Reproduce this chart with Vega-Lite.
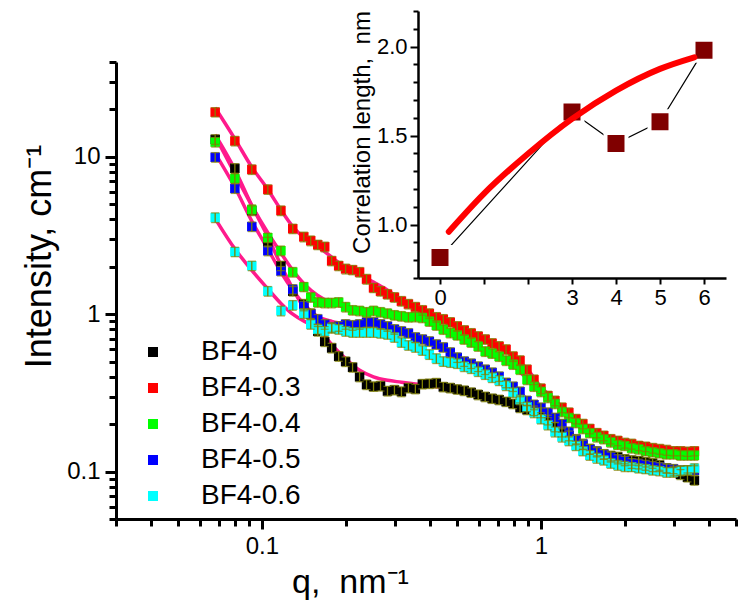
{
  "$schema": "https://vega.github.io/schema/vega-lite/v6.json",
  "width": 620,
  "height": 457,
  "autosize": {"type": "none"},
  "padding": {"left": 116, "top": 62, "right": 17, "bottom": 96},
  "background": "white",
  "config": {
    "view": {"stroke": null},
    "font": "Liberation Sans",
    "axis": {"grid": false, "domainColor": "black", "tickColor": "black", "labelColor": "black", "titleColor": "black", "titleFontWeight": "normal", "labelFont": "Liberation Sans", "titleFont": "Liberation Sans", "labelOverlap": false, "labelFlush": false, "labelBound": false},
    "legend": {"orient": "none", "legendX": 23, "legendY": 276, "symbolType": "square", "symbolSize": 100, "labelFontSize": 28, "labelFont": "Liberation Sans", "labelColor": "black", "labelOffset": 34, "rowPadding": 8, "padding": 0, "symbolStrokeWidth": 0}
  },
  "datasets": {
    "pts": [
      {"s":"BF4-0","q":0.068,"i":12.9,"e":0.9},{"s":"BF4-0","q":0.08,"i":8.45,"e":0.59},{"s":"BF4-0","q":0.092,"i":4.55,"e":0.32},{"s":"BF4-0","q":0.105,"i":2.88,"e":0.2},{"s":"BF4-0","q":0.117,"i":2.03,"e":0.14},{"s":"BF4-0","q":0.129,"i":1.4,"e":0.098},{"s":"BF4-0","q":0.1413,"i":1.16,"e":0.081},{"s":"BF4-0","q":0.1496,"i":1.01,"e":0.071},{"s":"BF4-0","q":0.1585,"i":0.78,"e":0.055},{"s":"BF4-0","q":0.1679,"i":0.67,"e":0.047},{"s":"BF4-0","q":0.1778,"i":0.61,"e":0.043},{"s":"BF4-0","q":0.1884,"i":0.54,"e":0.038},{"s":"BF4-0","q":0.1995,"i":0.5,"e":0.035},{"s":"BF4-0","q":0.2113,"i":0.46,"e":0.032},{"s":"BF4-0","q":0.2239,"i":0.4,"e":0.028},{"s":"BF4-0","q":0.2371,"i":0.357,"e":0.025},{"s":"BF4-0","q":0.2512,"i":0.347,"e":0.024},{"s":"BF4-0","q":0.2661,"i":0.35,"e":0.025},{"s":"BF4-0","q":0.2818,"i":0.325,"e":0.023},{"s":"BF4-0","q":0.2985,"i":0.33,"e":0.023},{"s":"BF4-0","q":0.3162,"i":0.322,"e":0.023},{"s":"BF4-0","q":0.335,"i":0.34,"e":0.024},{"s":"BF4-0","q":0.3548,"i":0.335,"e":0.023},{"s":"BF4-0","q":0.3758,"i":0.36,"e":0.025},{"s":"BF4-0","q":0.3981,"i":0.362,"e":0.025},{"s":"BF4-0","q":0.4217,"i":0.365,"e":0.026},{"s":"BF4-0","q":0.4467,"i":0.345,"e":0.024},{"s":"BF4-0","q":0.4732,"i":0.34,"e":0.024},{"s":"BF4-0","q":0.5012,"i":0.333,"e":0.023},{"s":"BF4-0","q":0.5309,"i":0.327,"e":0.023},{"s":"BF4-0","q":0.5623,"i":0.318,"e":0.022},{"s":"BF4-0","q":0.5957,"i":0.308,"e":0.022},{"s":"BF4-0","q":0.631,"i":0.299,"e":0.021},{"s":"BF4-0","q":0.6683,"i":0.291,"e":0.02},{"s":"BF4-0","q":0.7079,"i":0.286,"e":0.02},{"s":"BF4-0","q":0.7499,"i":0.278,"e":0.019},{"s":"BF4-0","q":0.7943,"i":0.27,"e":0.019},{"s":"BF4-0","q":0.8414,"i":0.255,"e":0.018},{"s":"BF4-0","q":0.8913,"i":0.247,"e":0.017},{"s":"BF4-0","q":0.9441,"i":0.244,"e":0.017},{"s":"BF4-0","q":1.0,"i":0.237,"e":0.017},{"s":"BF4-0","q":1.059,"i":0.213,"e":0.015},{"s":"BF4-0","q":1.122,"i":0.192,"e":0.013},{"s":"BF4-0","q":1.189,"i":0.179,"e":0.013},{"s":"BF4-0","q":1.259,"i":0.169,"e":0.012},{"s":"BF4-0","q":1.334,"i":0.159,"e":0.011},{"s":"BF4-0","q":1.413,"i":0.148,"e":0.01},{"s":"BF4-0","q":1.496,"i":0.139,"e":0.01},{"s":"BF4-0","q":1.585,"i":0.133,"e":0.009},{"s":"BF4-0","q":1.679,"i":0.129,"e":0.009},{"s":"BF4-0","q":1.778,"i":0.126,"e":0.009},{"s":"BF4-0","q":1.884,"i":0.124,"e":0.009},{"s":"BF4-0","q":1.995,"i":0.12,"e":0.008},{"s":"BF4-0","q":2.113,"i":0.118,"e":0.008},{"s":"BF4-0","q":2.239,"i":0.117,"e":0.008},{"s":"BF4-0","q":2.371,"i":0.115,"e":0.008},{"s":"BF4-0","q":2.512,"i":0.113,"e":0.008},{"s":"BF4-0","q":2.661,"i":0.11,"e":0.008},{"s":"BF4-0","q":2.818,"i":0.105,"e":0.007},{"s":"BF4-0","q":2.985,"i":0.101,"e":0.007},{"s":"BF4-0","q":3.162,"i":0.096,"e":0.007},{"s":"BF4-0","q":3.35,"i":0.092,"e":0.006},{"s":"BF4-0","q":3.548,"i":0.088,"e":0.006},
      {"s":"BF4-0.3","q":0.068,"i":19.2,"e":1.3},{"s":"BF4-0.3","q":0.08,"i":12.6,"e":0.88},{"s":"BF4-0.3","q":0.092,"i":8.3,"e":0.58},{"s":"BF4-0.3","q":0.105,"i":6.2,"e":0.43},{"s":"BF4-0.3","q":0.117,"i":4.55,"e":0.32},{"s":"BF4-0.3","q":0.129,"i":3.49,"e":0.24},{"s":"BF4-0.3","q":0.1413,"i":3.1,"e":0.22},{"s":"BF4-0.3","q":0.1496,"i":2.93,"e":0.21},{"s":"BF4-0.3","q":0.1585,"i":2.76,"e":0.19},{"s":"BF4-0.3","q":0.1679,"i":2.68,"e":0.19},{"s":"BF4-0.3","q":0.1778,"i":2.18,"e":0.15},{"s":"BF4-0.3","q":0.1884,"i":2.03,"e":0.14},{"s":"BF4-0.3","q":0.1995,"i":1.94,"e":0.14},{"s":"BF4-0.3","q":0.2113,"i":1.91,"e":0.13},{"s":"BF4-0.3","q":0.2239,"i":1.85,"e":0.13},{"s":"BF4-0.3","q":0.2371,"i":1.67,"e":0.12},{"s":"BF4-0.3","q":0.2512,"i":1.47,"e":0.1},{"s":"BF4-0.3","q":0.2661,"i":1.4,"e":0.098},{"s":"BF4-0.3","q":0.2818,"i":1.34,"e":0.094},{"s":"BF4-0.3","q":0.2985,"i":1.28,"e":0.09},{"s":"BF4-0.3","q":0.3162,"i":1.21,"e":0.085},{"s":"BF4-0.3","q":0.335,"i":1.16,"e":0.081},{"s":"BF4-0.3","q":0.3548,"i":1.11,"e":0.078},{"s":"BF4-0.3","q":0.3758,"i":1.06,"e":0.074},{"s":"BF4-0.3","q":0.3981,"i":1.01,"e":0.071},{"s":"BF4-0.3","q":0.4217,"i":0.957,"e":0.067},{"s":"BF4-0.3","q":0.4467,"i":0.929,"e":0.065},{"s":"BF4-0.3","q":0.4732,"i":0.889,"e":0.062},{"s":"BF4-0.3","q":0.5012,"i":0.838,"e":0.059},{"s":"BF4-0.3","q":0.5309,"i":0.79,"e":0.055},{"s":"BF4-0.3","q":0.5623,"i":0.757,"e":0.053},{"s":"BF4-0.3","q":0.5957,"i":0.723,"e":0.051},{"s":"BF4-0.3","q":0.631,"i":0.692,"e":0.048},{"s":"BF4-0.3","q":0.6683,"i":0.653,"e":0.046},{"s":"BF4-0.3","q":0.7079,"i":0.625,"e":0.044},{"s":"BF4-0.3","q":0.7499,"i":0.597,"e":0.042},{"s":"BF4-0.3","q":0.7943,"i":0.539,"e":0.038},{"s":"BF4-0.3","q":0.8414,"i":0.508,"e":0.036},{"s":"BF4-0.3","q":0.8913,"i":0.445,"e":0.031},{"s":"BF4-0.3","q":0.9441,"i":0.384,"e":0.027},{"s":"BF4-0.3","q":1.0,"i":0.337,"e":0.024},{"s":"BF4-0.3","q":1.059,"i":0.303,"e":0.021},{"s":"BF4-0.3","q":1.122,"i":0.282,"e":0.02},{"s":"BF4-0.3","q":1.189,"i":0.255,"e":0.018},{"s":"BF4-0.3","q":1.259,"i":0.237,"e":0.017},{"s":"BF4-0.3","q":1.334,"i":0.216,"e":0.015},{"s":"BF4-0.3","q":1.413,"i":0.201,"e":0.014},{"s":"BF4-0.3","q":1.496,"i":0.187,"e":0.013},{"s":"BF4-0.3","q":1.585,"i":0.176,"e":0.012},{"s":"BF4-0.3","q":1.679,"i":0.169,"e":0.012},{"s":"BF4-0.3","q":1.778,"i":0.161,"e":0.011},{"s":"BF4-0.3","q":1.884,"i":0.157,"e":0.011},{"s":"BF4-0.3","q":1.995,"i":0.152,"e":0.011},{"s":"BF4-0.3","q":2.113,"i":0.15,"e":0.011},{"s":"BF4-0.3","q":2.239,"i":0.146,"e":0.01},{"s":"BF4-0.3","q":2.371,"i":0.144,"e":0.01},{"s":"BF4-0.3","q":2.512,"i":0.141,"e":0.01},{"s":"BF4-0.3","q":2.661,"i":0.139,"e":0.01},{"s":"BF4-0.3","q":2.818,"i":0.137,"e":0.01},{"s":"BF4-0.3","q":2.985,"i":0.135,"e":0.009},{"s":"BF4-0.3","q":3.162,"i":0.135,"e":0.009},{"s":"BF4-0.3","q":3.35,"i":0.134,"e":0.009},{"s":"BF4-0.3","q":3.548,"i":0.135,"e":0.009},
      {"s":"BF4-0.4","q":0.068,"i":12.4,"e":0.87},{"s":"BF4-0.4","q":0.08,"i":7.29,"e":0.51},{"s":"BF4-0.4","q":0.092,"i":4.62,"e":0.32},{"s":"BF4-0.4","q":0.105,"i":3.06,"e":0.21},{"s":"BF4-0.4","q":0.117,"i":2.53,"e":0.18},{"s":"BF4-0.4","q":0.129,"i":1.85,"e":0.13},{"s":"BF4-0.4","q":0.1413,"i":1.49,"e":0.1},{"s":"BF4-0.4","q":0.1496,"i":1.28,"e":0.09},{"s":"BF4-0.4","q":0.1585,"i":1.19,"e":0.083},{"s":"BF4-0.4","q":0.1679,"i":1.18,"e":0.083},{"s":"BF4-0.4","q":0.1778,"i":1.18,"e":0.083},{"s":"BF4-0.4","q":0.1884,"i":1.19,"e":0.083},{"s":"BF4-0.4","q":0.1995,"i":1.11,"e":0.078},{"s":"BF4-0.4","q":0.2113,"i":1.06,"e":0.074},{"s":"BF4-0.4","q":0.2239,"i":1.05,"e":0.074},{"s":"BF4-0.4","q":0.2371,"i":1.03,"e":0.072},{"s":"BF4-0.4","q":0.2512,"i":1.05,"e":0.074},{"s":"BF4-0.4","q":0.2661,"i":1.03,"e":0.072},{"s":"BF4-0.4","q":0.2818,"i":1.01,"e":0.071},{"s":"BF4-0.4","q":0.2985,"i":0.985,"e":0.069},{"s":"BF4-0.4","q":0.3162,"i":0.971,"e":0.068},{"s":"BF4-0.4","q":0.335,"i":0.957,"e":0.067},{"s":"BF4-0.4","q":0.3548,"i":0.96,"e":0.067},{"s":"BF4-0.4","q":0.3758,"i":0.95,"e":0.067},{"s":"BF4-0.4","q":0.3981,"i":0.9,"e":0.063},{"s":"BF4-0.4","q":0.4217,"i":0.85,"e":0.06},{"s":"BF4-0.4","q":0.4467,"i":0.8,"e":0.056},{"s":"BF4-0.4","q":0.4732,"i":0.76,"e":0.053},{"s":"BF4-0.4","q":0.5012,"i":0.735,"e":0.051},{"s":"BF4-0.4","q":0.5309,"i":0.692,"e":0.048},{"s":"BF4-0.4","q":0.5623,"i":0.662,"e":0.046},{"s":"BF4-0.4","q":0.5957,"i":0.625,"e":0.044},{"s":"BF4-0.4","q":0.631,"i":0.58,"e":0.041},{"s":"BF4-0.4","q":0.6683,"i":0.563,"e":0.039},{"s":"BF4-0.4","q":0.7079,"i":0.539,"e":0.038},{"s":"BF4-0.4","q":0.7499,"i":0.508,"e":0.036},{"s":"BF4-0.4","q":0.7943,"i":0.48,"e":0.034},{"s":"BF4-0.4","q":0.8414,"i":0.445,"e":0.031},{"s":"BF4-0.4","q":0.8913,"i":0.384,"e":0.027},{"s":"BF4-0.4","q":0.9441,"i":0.347,"e":0.024},{"s":"BF4-0.4","q":1.0,"i":0.322,"e":0.023},{"s":"BF4-0.4","q":1.059,"i":0.295,"e":0.021},{"s":"BF4-0.4","q":1.122,"i":0.27,"e":0.019},{"s":"BF4-0.4","q":1.189,"i":0.24,"e":0.017},{"s":"BF4-0.4","q":1.259,"i":0.22,"e":0.015},{"s":"BF4-0.4","q":1.334,"i":0.204,"e":0.014},{"s":"BF4-0.4","q":1.413,"i":0.187,"e":0.013},{"s":"BF4-0.4","q":1.496,"i":0.176,"e":0.012},{"s":"BF4-0.4","q":1.585,"i":0.166,"e":0.012},{"s":"BF4-0.4","q":1.679,"i":0.161,"e":0.011},{"s":"BF4-0.4","q":1.778,"i":0.154,"e":0.011},{"s":"BF4-0.4","q":1.884,"i":0.148,"e":0.01},{"s":"BF4-0.4","q":1.995,"i":0.146,"e":0.01},{"s":"BF4-0.4","q":2.113,"i":0.141,"e":0.01},{"s":"BF4-0.4","q":2.239,"i":0.139,"e":0.01},{"s":"BF4-0.4","q":2.371,"i":0.135,"e":0.009},{"s":"BF4-0.4","q":2.512,"i":0.133,"e":0.009},{"s":"BF4-0.4","q":2.661,"i":0.131,"e":0.009},{"s":"BF4-0.4","q":2.818,"i":0.129,"e":0.009},{"s":"BF4-0.4","q":2.985,"i":0.129,"e":0.009},{"s":"BF4-0.4","q":3.162,"i":0.127,"e":0.009},{"s":"BF4-0.4","q":3.35,"i":0.127,"e":0.009},{"s":"BF4-0.4","q":3.548,"i":0.127,"e":0.009},
      {"s":"BF4-0.5","q":0.068,"i":9.93,"e":0.7},{"s":"BF4-0.5","q":0.08,"i":6.29,"e":0.44},{"s":"BF4-0.5","q":0.092,"i":3.6,"e":0.25},{"s":"BF4-0.5","q":0.105,"i":2.53,"e":0.18},{"s":"BF4-0.5","q":0.117,"i":1.88,"e":0.13},{"s":"BF4-0.5","q":0.129,"i":1.44,"e":0.1},{"s":"BF4-0.5","q":0.1413,"i":1.13,"e":0.079},{"s":"BF4-0.5","q":0.1496,"i":1.0,"e":0.07},{"s":"BF4-0.5","q":0.1585,"i":0.93,"e":0.065},{"s":"BF4-0.5","q":0.1679,"i":0.863,"e":0.06},{"s":"BF4-0.5","q":0.1778,"i":0.826,"e":0.058},{"s":"BF4-0.5","q":0.1884,"i":0.838,"e":0.059},{"s":"BF4-0.5","q":0.1995,"i":0.863,"e":0.06},{"s":"BF4-0.5","q":0.2113,"i":0.851,"e":0.06},{"s":"BF4-0.5","q":0.2239,"i":0.863,"e":0.06},{"s":"BF4-0.5","q":0.2371,"i":0.889,"e":0.062},{"s":"BF4-0.5","q":0.2512,"i":0.889,"e":0.062},{"s":"BF4-0.5","q":0.2661,"i":0.863,"e":0.06},{"s":"BF4-0.5","q":0.2818,"i":0.838,"e":0.059},{"s":"BF4-0.5","q":0.2985,"i":0.802,"e":0.056},{"s":"BF4-0.5","q":0.3162,"i":0.779,"e":0.055},{"s":"BF4-0.5","q":0.335,"i":0.757,"e":0.053},{"s":"BF4-0.5","q":0.3548,"i":0.713,"e":0.05},{"s":"BF4-0.5","q":0.3758,"i":0.692,"e":0.048},{"s":"BF4-0.5","q":0.3981,"i":0.672,"e":0.047},{"s":"BF4-0.5","q":0.4217,"i":0.643,"e":0.045},{"s":"BF4-0.5","q":0.4467,"i":0.616,"e":0.043},{"s":"BF4-0.5","q":0.4732,"i":0.572,"e":0.04},{"s":"BF4-0.5","q":0.5012,"i":0.531,"e":0.037},{"s":"BF4-0.5","q":0.5309,"i":0.501,"e":0.035},{"s":"BF4-0.5","q":0.5623,"i":0.486,"e":0.034},{"s":"BF4-0.5","q":0.5957,"i":0.465,"e":0.033},{"s":"BF4-0.5","q":0.631,"i":0.445,"e":0.031},{"s":"BF4-0.5","q":0.6683,"i":0.426,"e":0.03},{"s":"BF4-0.5","q":0.7079,"i":0.402,"e":0.028},{"s":"BF4-0.5","q":0.7499,"i":0.367,"e":0.026},{"s":"BF4-0.5","q":0.7943,"i":0.347,"e":0.024},{"s":"BF4-0.5","q":0.8414,"i":0.322,"e":0.023},{"s":"BF4-0.5","q":0.8913,"i":0.282,"e":0.02},{"s":"BF4-0.5","q":0.9441,"i":0.266,"e":0.019},{"s":"BF4-0.5","q":1.0,"i":0.255,"e":0.018},{"s":"BF4-0.5","q":1.059,"i":0.237,"e":0.017},{"s":"BF4-0.5","q":1.122,"i":0.22,"e":0.015},{"s":"BF4-0.5","q":1.189,"i":0.201,"e":0.014},{"s":"BF4-0.5","q":1.259,"i":0.179,"e":0.013},{"s":"BF4-0.5","q":1.334,"i":0.161,"e":0.011},{"s":"BF4-0.5","q":1.413,"i":0.15,"e":0.011},{"s":"BF4-0.5","q":1.496,"i":0.139,"e":0.01},{"s":"BF4-0.5","q":1.585,"i":0.135,"e":0.009},{"s":"BF4-0.5","q":1.679,"i":0.129,"e":0.009},{"s":"BF4-0.5","q":1.778,"i":0.124,"e":0.009},{"s":"BF4-0.5","q":1.884,"i":0.12,"e":0.008},{"s":"BF4-0.5","q":1.995,"i":0.117,"e":0.008},{"s":"BF4-0.5","q":2.113,"i":0.113,"e":0.008},{"s":"BF4-0.5","q":2.239,"i":0.112,"e":0.008},{"s":"BF4-0.5","q":2.371,"i":0.11,"e":0.008},{"s":"BF4-0.5","q":2.512,"i":0.108,"e":0.008},{"s":"BF4-0.5","q":2.661,"i":0.107,"e":0.007},{"s":"BF4-0.5","q":2.818,"i":0.105,"e":0.007},{"s":"BF4-0.5","q":2.985,"i":0.104,"e":0.007},{"s":"BF4-0.5","q":3.162,"i":0.102,"e":0.007},{"s":"BF4-0.5","q":3.35,"i":0.102,"e":0.007},{"s":"BF4-0.5","q":3.548,"i":0.102,"e":0.007},
      {"s":"BF4-0.6","q":0.068,"i":4.11,"e":0.29},{"s":"BF4-0.6","q":0.08,"i":2.49,"e":0.17},{"s":"BF4-0.6","q":0.092,"i":2.03,"e":0.14},{"s":"BF4-0.6","q":0.105,"i":1.4,"e":0.098},{"s":"BF4-0.6","q":0.117,"i":1.05,"e":0.074},{"s":"BF4-0.6","q":0.129,"i":1.14,"e":0.08},{"s":"BF4-0.6","q":0.1413,"i":1.01,"e":0.071},{"s":"BF4-0.6","q":0.1496,"i":0.863,"e":0.06},{"s":"BF4-0.6","q":0.1585,"i":0.802,"e":0.056},{"s":"BF4-0.6","q":0.1679,"i":0.779,"e":0.055},{"s":"BF4-0.6","q":0.1778,"i":0.814,"e":0.057},{"s":"BF4-0.6","q":0.1884,"i":0.802,"e":0.056},{"s":"BF4-0.6","q":0.1995,"i":0.779,"e":0.055},{"s":"BF4-0.6","q":0.2113,"i":0.767,"e":0.054},{"s":"BF4-0.6","q":0.2239,"i":0.767,"e":0.054},{"s":"BF4-0.6","q":0.2371,"i":0.767,"e":0.054},{"s":"BF4-0.6","q":0.2512,"i":0.767,"e":0.054},{"s":"BF4-0.6","q":0.2661,"i":0.757,"e":0.053},{"s":"BF4-0.6","q":0.2818,"i":0.745,"e":0.052},{"s":"BF4-0.6","q":0.2985,"i":0.713,"e":0.05},{"s":"BF4-0.6","q":0.3162,"i":0.662,"e":0.046},{"s":"BF4-0.6","q":0.335,"i":0.634,"e":0.044},{"s":"BF4-0.6","q":0.3548,"i":0.616,"e":0.043},{"s":"BF4-0.6","q":0.3758,"i":0.589,"e":0.041},{"s":"BF4-0.6","q":0.3981,"i":0.555,"e":0.039},{"s":"BF4-0.6","q":0.4217,"i":0.523,"e":0.037},{"s":"BF4-0.6","q":0.4467,"i":0.501,"e":0.035},{"s":"BF4-0.6","q":0.4732,"i":0.494,"e":0.035},{"s":"BF4-0.6","q":0.5012,"i":0.486,"e":0.034},{"s":"BF4-0.6","q":0.5309,"i":0.465,"e":0.033},{"s":"BF4-0.6","q":0.5623,"i":0.452,"e":0.032},{"s":"BF4-0.6","q":0.5957,"i":0.432,"e":0.03},{"s":"BF4-0.6","q":0.631,"i":0.414,"e":0.029},{"s":"BF4-0.6","q":0.6683,"i":0.396,"e":0.028},{"s":"BF4-0.6","q":0.7079,"i":0.379,"e":0.027},{"s":"BF4-0.6","q":0.7499,"i":0.352,"e":0.025},{"s":"BF4-0.6","q":0.7943,"i":0.318,"e":0.022},{"s":"BF4-0.6","q":0.8414,"i":0.286,"e":0.02},{"s":"BF4-0.6","q":0.8913,"i":0.258,"e":0.018},{"s":"BF4-0.6","q":0.9441,"i":0.237,"e":0.017},{"s":"BF4-0.6","q":1.0,"i":0.216,"e":0.015},{"s":"BF4-0.6","q":1.059,"i":0.198,"e":0.014},{"s":"BF4-0.6","q":1.122,"i":0.179,"e":0.013},{"s":"BF4-0.6","q":1.189,"i":0.166,"e":0.012},{"s":"BF4-0.6","q":1.259,"i":0.157,"e":0.011},{"s":"BF4-0.6","q":1.334,"i":0.146,"e":0.01},{"s":"BF4-0.6","q":1.413,"i":0.135,"e":0.009},{"s":"BF4-0.6","q":1.496,"i":0.127,"e":0.009},{"s":"BF4-0.6","q":1.585,"i":0.122,"e":0.009},{"s":"BF4-0.6","q":1.679,"i":0.118,"e":0.008},{"s":"BF4-0.6","q":1.778,"i":0.113,"e":0.008},{"s":"BF4-0.6","q":1.884,"i":0.11,"e":0.008},{"s":"BF4-0.6","q":1.995,"i":0.108,"e":0.008},{"s":"BF4-0.6","q":2.113,"i":0.107,"e":0.007},{"s":"BF4-0.6","q":2.239,"i":0.105,"e":0.007},{"s":"BF4-0.6","q":2.371,"i":0.104,"e":0.007},{"s":"BF4-0.6","q":2.512,"i":0.102,"e":0.007},{"s":"BF4-0.6","q":2.661,"i":0.101,"e":0.007},{"s":"BF4-0.6","q":2.818,"i":0.099,"e":0.007},{"s":"BF4-0.6","q":2.985,"i":0.099,"e":0.007},{"s":"BF4-0.6","q":3.162,"i":0.101,"e":0.007},{"s":"BF4-0.6","q":3.35,"i":0.102,"e":0.007},{"s":"BF4-0.6","q":3.548,"i":0.105,"e":0.007}
    ],
    "fit": [
      {"s":"BF4-0","q":0.068,"i":13.8},{"s":"BF4-0","q":0.08,"i":8.3},{"s":"BF4-0","q":0.092,"i":4.9},{"s":"BF4-0","q":0.105,"i":3.1},{"s":"BF4-0","q":0.117,"i":2.05},{"s":"BF4-0","q":0.129,"i":1.45},{"s":"BF4-0","q":0.142,"i":1.08},{"s":"BF4-0","q":0.158,"i":0.84},{"s":"BF4-0","q":0.178,"i":0.64},{"s":"BF4-0","q":0.2,"i":0.52},{"s":"BF4-0","q":0.224,"i":0.44},{"s":"BF4-0","q":0.251,"i":0.4},{"s":"BF4-0","q":0.282,"i":0.38},{"s":"BF4-0","q":0.316,"i":0.37},{"s":"BF4-0","q":0.355,"i":0.36},{"s":"BF4-0","q":0.398,"i":0.35},{"s":"BF4-0","q":0.447,"i":0.342},{"s":"BF4-0","q":0.501,"i":0.333},{"s":"BF4-0","q":0.562,"i":0.318},{"s":"BF4-0","q":0.631,"i":0.3},{"s":"BF4-0","q":0.708,"i":0.285},{"s":"BF4-0","q":0.794,"i":0.268},{"s":"BF4-0","q":0.891,"i":0.248},{"s":"BF4-0","q":1.0,"i":0.226},{"s":"BF4-0","q":1.122,"i":0.196},{"s":"BF4-0","q":1.259,"i":0.17},{"s":"BF4-0","q":1.413,"i":0.15},{"s":"BF4-0","q":1.585,"i":0.136},{"s":"BF4-0","q":1.778,"i":0.127},{"s":"BF4-0","q":1.995,"i":0.121},{"s":"BF4-0","q":2.239,"i":0.117},{"s":"BF4-0","q":2.512,"i":0.113},{"s":"BF4-0","q":2.818,"i":0.108},{"s":"BF4-0","q":3.162,"i":0.102},{"s":"BF4-0","q":3.548,"i":0.096},
      {"s":"BF4-0.3","q":0.068,"i":20.5},{"s":"BF4-0.3","q":0.08,"i":13.0},{"s":"BF4-0.3","q":0.092,"i":8.6},{"s":"BF4-0.3","q":0.105,"i":6.2},{"s":"BF4-0.3","q":0.117,"i":4.6},{"s":"BF4-0.3","q":0.129,"i":3.6},{"s":"BF4-0.3","q":0.142,"i":3.05},{"s":"BF4-0.3","q":0.158,"i":2.7},{"s":"BF4-0.3","q":0.178,"i":2.3},{"s":"BF4-0.3","q":0.2,"i":1.98},{"s":"BF4-0.3","q":0.224,"i":1.8},{"s":"BF4-0.3","q":0.251,"i":1.6},{"s":"BF4-0.3","q":0.282,"i":1.42},{"s":"BF4-0.3","q":0.316,"i":1.24},{"s":"BF4-0.3","q":0.355,"i":1.11},{"s":"BF4-0.3","q":0.398,"i":1.01},{"s":"BF4-0.3","q":0.447,"i":0.925},{"s":"BF4-0.3","q":0.501,"i":0.84},{"s":"BF4-0.3","q":0.562,"i":0.76},{"s":"BF4-0.3","q":0.631,"i":0.69},{"s":"BF4-0.3","q":0.708,"i":0.62},{"s":"BF4-0.3","q":0.794,"i":0.54},{"s":"BF4-0.3","q":0.891,"i":0.45},{"s":"BF4-0.3","q":1.0,"i":0.345},{"s":"BF4-0.3","q":1.122,"i":0.285},{"s":"BF4-0.3","q":1.259,"i":0.237},{"s":"BF4-0.3","q":1.413,"i":0.202},{"s":"BF4-0.3","q":1.585,"i":0.177},{"s":"BF4-0.3","q":1.778,"i":0.162},{"s":"BF4-0.3","q":1.995,"i":0.152},{"s":"BF4-0.3","q":2.239,"i":0.146},{"s":"BF4-0.3","q":2.512,"i":0.141},{"s":"BF4-0.3","q":2.818,"i":0.138},{"s":"BF4-0.3","q":3.162,"i":0.136},{"s":"BF4-0.3","q":3.548,"i":0.135},
      {"s":"BF4-0.4","q":0.068,"i":13.5},{"s":"BF4-0.4","q":0.08,"i":7.8},{"s":"BF4-0.4","q":0.092,"i":4.9},{"s":"BF4-0.4","q":0.105,"i":3.3},{"s":"BF4-0.4","q":0.117,"i":2.45},{"s":"BF4-0.4","q":0.129,"i":1.9},{"s":"BF4-0.4","q":0.142,"i":1.55},{"s":"BF4-0.4","q":0.158,"i":1.32},{"s":"BF4-0.4","q":0.178,"i":1.18},{"s":"BF4-0.4","q":0.2,"i":1.1},{"s":"BF4-0.4","q":0.224,"i":1.06},{"s":"BF4-0.4","q":0.251,"i":1.03},{"s":"BF4-0.4","q":0.282,"i":1.01},{"s":"BF4-0.4","q":0.316,"i":0.98},{"s":"BF4-0.4","q":0.355,"i":0.95},{"s":"BF4-0.4","q":0.398,"i":0.89},{"s":"BF4-0.4","q":0.447,"i":0.8},{"s":"BF4-0.4","q":0.501,"i":0.74},{"s":"BF4-0.4","q":0.562,"i":0.67},{"s":"BF4-0.4","q":0.631,"i":0.59},{"s":"BF4-0.4","q":0.708,"i":0.53},{"s":"BF4-0.4","q":0.794,"i":0.47},{"s":"BF4-0.4","q":0.891,"i":0.39},{"s":"BF4-0.4","q":1.0,"i":0.325},{"s":"BF4-0.4","q":1.122,"i":0.27},{"s":"BF4-0.4","q":1.259,"i":0.225},{"s":"BF4-0.4","q":1.413,"i":0.19},{"s":"BF4-0.4","q":1.585,"i":0.168},{"s":"BF4-0.4","q":1.778,"i":0.155},{"s":"BF4-0.4","q":1.995,"i":0.146},{"s":"BF4-0.4","q":2.239,"i":0.14},{"s":"BF4-0.4","q":2.512,"i":0.135},{"s":"BF4-0.4","q":2.818,"i":0.131},{"s":"BF4-0.4","q":3.162,"i":0.128},{"s":"BF4-0.4","q":3.548,"i":0.127},
      {"s":"BF4-0.5","q":0.068,"i":10.5},{"s":"BF4-0.5","q":0.08,"i":6.4},{"s":"BF4-0.5","q":0.092,"i":3.9},{"s":"BF4-0.5","q":0.105,"i":2.6},{"s":"BF4-0.5","q":0.117,"i":1.85},{"s":"BF4-0.5","q":0.129,"i":1.42},{"s":"BF4-0.5","q":0.142,"i":1.15},{"s":"BF4-0.5","q":0.158,"i":0.97},{"s":"BF4-0.5","q":0.178,"i":0.9},{"s":"BF4-0.5","q":0.2,"i":0.87},{"s":"BF4-0.5","q":0.224,"i":0.86},{"s":"BF4-0.5","q":0.251,"i":0.85},{"s":"BF4-0.5","q":0.282,"i":0.83},{"s":"BF4-0.5","q":0.316,"i":0.78},{"s":"BF4-0.5","q":0.355,"i":0.72},{"s":"BF4-0.5","q":0.398,"i":0.67},{"s":"BF4-0.5","q":0.447,"i":0.62},{"s":"BF4-0.5","q":0.501,"i":0.54},{"s":"BF4-0.5","q":0.562,"i":0.49},{"s":"BF4-0.5","q":0.631,"i":0.45},{"s":"BF4-0.5","q":0.708,"i":0.4},{"s":"BF4-0.5","q":0.794,"i":0.35},{"s":"BF4-0.5","q":0.891,"i":0.29},{"s":"BF4-0.5","q":1.0,"i":0.255},{"s":"BF4-0.5","q":1.122,"i":0.22},{"s":"BF4-0.5","q":1.259,"i":0.18},{"s":"BF4-0.5","q":1.413,"i":0.15},{"s":"BF4-0.5","q":1.585,"i":0.135},{"s":"BF4-0.5","q":1.778,"i":0.124},{"s":"BF4-0.5","q":1.995,"i":0.117},{"s":"BF4-0.5","q":2.239,"i":0.112},{"s":"BF4-0.5","q":2.512,"i":0.108},{"s":"BF4-0.5","q":2.818,"i":0.105},{"s":"BF4-0.5","q":3.162,"i":0.102},{"s":"BF4-0.5","q":3.548,"i":0.102},
      {"s":"BF4-0.6","q":0.068,"i":4.05},{"s":"BF4-0.6","q":0.08,"i":2.6},{"s":"BF4-0.6","q":0.092,"i":1.9},{"s":"BF4-0.6","q":0.105,"i":1.45},{"s":"BF4-0.6","q":0.117,"i":1.17},{"s":"BF4-0.6","q":0.129,"i":1.0},{"s":"BF4-0.6","q":0.142,"i":0.9},{"s":"BF4-0.6","q":0.158,"i":0.83},{"s":"BF4-0.6","q":0.178,"i":0.8},{"s":"BF4-0.6","q":0.2,"i":0.78},{"s":"BF4-0.6","q":0.224,"i":0.77},{"s":"BF4-0.6","q":0.251,"i":0.765},{"s":"BF4-0.6","q":0.282,"i":0.745},{"s":"BF4-0.6","q":0.316,"i":0.68},{"s":"BF4-0.6","q":0.355,"i":0.62},{"s":"BF4-0.6","q":0.398,"i":0.56},{"s":"BF4-0.6","q":0.447,"i":0.51},{"s":"BF4-0.6","q":0.501,"i":0.485},{"s":"BF4-0.6","q":0.562,"i":0.455},{"s":"BF4-0.6","q":0.631,"i":0.415},{"s":"BF4-0.6","q":0.708,"i":0.375},{"s":"BF4-0.6","q":0.794,"i":0.32},{"s":"BF4-0.6","q":0.891,"i":0.26},{"s":"BF4-0.6","q":1.0,"i":0.216},{"s":"BF4-0.6","q":1.122,"i":0.179},{"s":"BF4-0.6","q":1.259,"i":0.157},{"s":"BF4-0.6","q":1.413,"i":0.136},{"s":"BF4-0.6","q":1.585,"i":0.122},{"s":"BF4-0.6","q":1.778,"i":0.113},{"s":"BF4-0.6","q":1.995,"i":0.108},{"s":"BF4-0.6","q":2.239,"i":0.105},{"s":"BF4-0.6","q":2.512,"i":0.102},{"s":"BF4-0.6","q":2.818,"i":0.099},{"s":"BF4-0.6","q":3.162,"i":0.1},{"s":"BF4-0.6","q":3.548,"i":0.104}
    ],
    "cl": [
      {"n":0,"L":0.815},{"n":3,"L":1.633},{"n":4,"L":1.455},{"n":5,"L":1.578},{"n":6,"L":1.98}
    ],
    "clfit": [
      {"n":0.2,"L":0.96},{"n":1,"L":1.174},{"n":2,"L":1.398},{"n":3,"L":1.594},{"n":4,"L":1.753},{"n":5,"L":1.875},{"n":5.78,"L":1.94}
    ]
  },
  "layer": [
    {
      "encoding": {
        "x": {"field": "q", "type": "quantitative",
          "scale": {"type": "log", "domain": [0.03, 5], "nice": false},
          "axis": {"orient": "bottom", "title": "q,\u00a0 nm\u207b\u00b9",
            "values": [0.03,0.04,0.05,0.06,0.07,0.08,0.09,0.1,0.2,0.3,0.4,0.5,0.6,0.7,0.8,0.9,1,2,3,4,5],
            "labelExpr": "datum.value == 0.1 ? '0.1' : datum.value == 1 ? '1' : ''",
            "tickSize": {"condition": {"test": "datum.value == 0.1 || datum.value == 1", "value": 10}, "value": 7},
            "tickWidth": 3, "domainWidth": 3, "labelFontSize": 24, "labelPadding": 5,
            "titleFontSize": 34, "titleX": 234, "titleY": 73, "titleAlign": "center", "titleBaseline": "alphabetic"}},
        "y": {"field": "i", "type": "quantitative",
          "scale": {"type": "log", "domain": [0.05, 40], "nice": false},
          "axis": {"orient": "left", "title": "Intensity, cm\u207b\u00b9",
            "values": [0.05,0.06,0.07,0.08,0.09,0.1,0.2,0.3,0.4,0.5,0.6,0.7,0.8,0.9,1,2,3,4,5,6,7,8,9,10,20,30,40],
            "labelExpr": "datum.value == 0.1 ? '0.1' : datum.value == 1 ? '1' : datum.value == 10 ? '10' : ''",
            "tickSize": {"condition": {"test": "datum.value == 0.1 || datum.value == 1 || datum.value == 10", "value": 11}, "value": 7},
            "tickWidth": 3, "domainWidth": 3, "labelFontSize": 24, "labelPadding": 5,
            "titleFontSize": 36, "titleX": -77, "titleY": 194, "titleAlign": "center", "titleBaseline": "middle"}}
      },
      "layer": [
        {"data": {"name": "fit"}, "mark": {"type": "line", "color": "#ff1a8c", "strokeWidth": 3.5, "interpolate": "monotone"},
         "encoding": {"detail": {"field": "s"}}},
        {"data": {"name": "pts"}, "mark": {"type": "point", "shape": "square", "filled": true, "size": 90, "opacity": 1},
         "encoding": {"color": {"field": "s", "type": "nominal",
            "scale": {"domain": ["BF4-0","BF4-0.3","BF4-0.4","BF4-0.5","BF4-0.6"], "range": ["#000000","#ff0000","#00ff00","#0000ff","#00ffff"]},
            "legend": {"title": null}}}},
        {"data": {"name": "pts"}, "mark": {"type": "errorbar", "ticks": {"size": 8}, "thickness": 1.3, "color": "#808000"},
         "encoding": {"yError": {"field": "e"}}}
      ]
    },
    {
      "encoding": {
        "x": {"field": "n", "type": "quantitative",
          "scale": {"domain": [-0.5, 6.5], "range": [302, 610], "nice": false, "zero": false},
          "axis": {"orient": "bottom", "offset": -241, "title": null, "values": [0,1,2,3,4,5,6],
            "labelExpr": "datum.value == 1 || datum.value == 2 ? '' : datum.label",
            "tickSize": 6, "tickWidth": 2, "domainWidth": 2.5, "labelFontSize": 22, "labelPadding": 3}},
        "y": {"field": "L", "type": "quantitative",
          "scale": {"domain": [0.7, 2.2], "range": [216, -51], "nice": false, "zero": false},
          "axis": {"orient": "left", "offset": -302, "title": "Correlation length,\u00a0 nm",
            "values": [0.7,0.8,0.9,1,1.1,1.2,1.3,1.4,1.5,1.6,1.7,1.8,1.9,2,2.1,2.2],
            "labelExpr": "datum.value == 1 || datum.value == 1.5 || datum.value == 2 ? format(datum.value, '.1f') : ''",
            "tickSize": {"condition": {"test": "datum.value == 1 || datum.value == 1.5 || datum.value == 2", "value": 8}, "value": 5},
            "tickWidth": 2, "domainWidth": 2.5, "labelFontSize": 22, "labelPadding": 3,
            "titleFontSize": 24, "titleX": -56, "titleY": 70, "titleAlign": "center", "titleBaseline": "middle"}}
      },
      "layer": [
        {"data": {"name": "cl"}, "mark": {"type": "line", "color": "black", "strokeWidth": 1.2}},
        {"data": {"name": "cl"}, "mark": {"type": "point", "shape": "square", "filled": true, "color": "#800000", "stroke": "white", "strokeWidth": 4, "size": 441, "opacity": 1}},
        {"data": {"name": "clfit"}, "mark": {"type": "line", "color": "#ff0000", "strokeWidth": 6, "strokeCap": "round", "interpolate": "monotone"}}
      ]
    }
  ],
  "resolve": {"scale": {"x": "independent", "y": "independent"}, "axis": {"x": "independent", "y": "independent"}}
}
